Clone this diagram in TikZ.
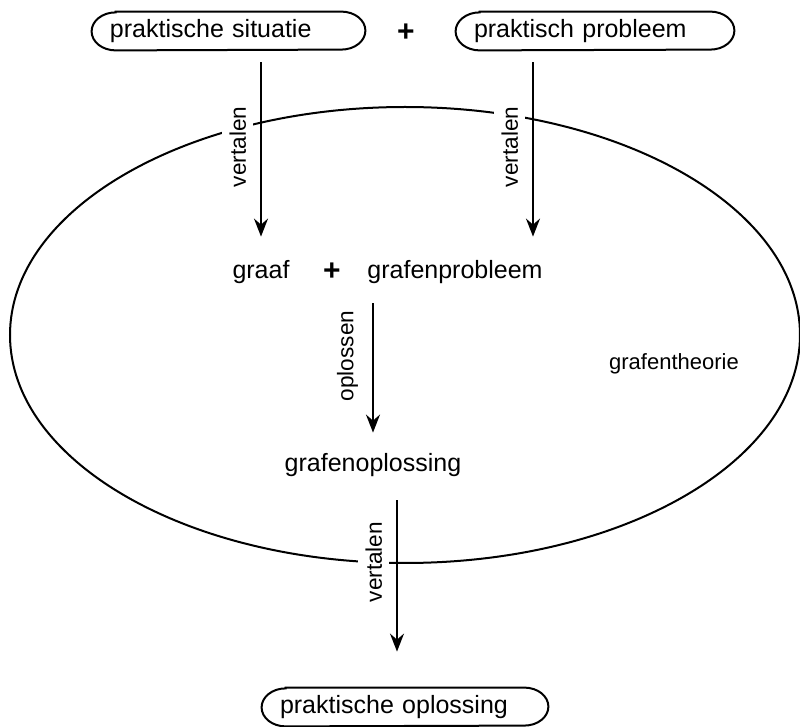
\documentclass[tikz,border=0pt]{standalone}
\usepackage{fontspec}
\setmainfont{Liberation Sans}
\usetikzlibrary{arrows.meta,shapes.geometric}
\begin{document}
\begin{tikzpicture}[x=0.5pt,y=-0.5pt,
  txt/.style={font=\fontsize{12.5}{15}\selectfont, inner sep=0pt, text height=9pt, text depth=2.6pt},
  plus/.style={font=\fontsize{15}{18}\selectfont\bfseries, inner sep=0pt},
  small/.style={font=\fontsize{11}{13}\selectfont, inner sep=0pt},
  boxnode/.style={txt, minimum height=19pt, inner xsep=9pt, inner ysep=0pt, align=left},
  outline/.style={line width=1pt},
  arr/.style={line width=1pt, -{Stealth[length=9pt,width=7pt,inset=3pt]}},
  lbl/.style={font=\fontsize{11.3}{13}\selectfont, rotate=90, anchor=south, fill=white,
              inner xsep=2pt, inner ysep=3.5pt, outer sep=4pt},
  theory/.style={draw, ellipse, line width=1pt, inner sep=0pt, outer sep=0pt}
]
\useasboundingbox (0,0) rectangle (800,727);

% ellipse (grafentheorie region)
\node[theory, minimum width=395pt, minimum height=228pt] (gt) at (405,335) {};
\node[small] (gtlabel) at (674,364) {grafentheorie};

% top boxes
\node[boxnode, minimum width=136.5pt, text width=118.5pt] (b1) at (228.5,31) {praktische situatie};
\node[boxnode, minimum width=139pt, text width=121pt] (b2) at (595,31) {praktisch probleem};
\node[plus] (p1) at (406,33) {+};

% bottom box
\node[boxnode, minimum width=143pt, text width=125pt] (b3) at (405,707) {praktische oplossing};

\foreach \b in {b1,b2,b3}{
  \draw[outline] ([xshift=12pt]\b.north west) -- ([xshift=-12pt]\b.north east)
    arc[start angle=90, end angle=-90, x radius=12pt, y radius=9.5pt]
    -- ([xshift=12pt]\b.south west)
    arc[start angle=270, end angle=90, x radius=12pt, y radius=9.5pt] -- cycle;
}

% middle texts
\node[txt] (graaf) at (261,272) {graaf};
\node[plus] (p2) at (332,272) {+};
\node[txt] (gp) at (455,272) {grafenprobleem};
\node[txt] (go) at (373,465) {grafenoplossing};

% arrows
\draw[arr, shorten <=6pt, shorten >=11.7pt] (b1.south -| graaf.north) -- (graaf.north)
  node[lbl, pos=0.46] (l1) {vertalen};
\draw[arr, shorten <=6pt, shorten >=11.7pt] ([xshift=-31pt]b2.south) -- ([xshift=-31pt]b2.south |- gp.north)
  node[lbl, pos=0.46] (l2) {vertalen};
\draw[arr, shorten <=9.7pt, shorten >=10.2pt] (gp.south -| go.north) -- (go.north)
  node[lbl, pos=0.426] (l3) {oplossen};
\draw[arr, shorten <=11.7pt, shorten >=18pt] ([xshift=-4pt]b3.north |- go.south) -- ([xshift=-4pt]b3.north)
  node[lbl, pos=0.404] (l4) {vertalen};
\end{tikzpicture}
\end{document}
